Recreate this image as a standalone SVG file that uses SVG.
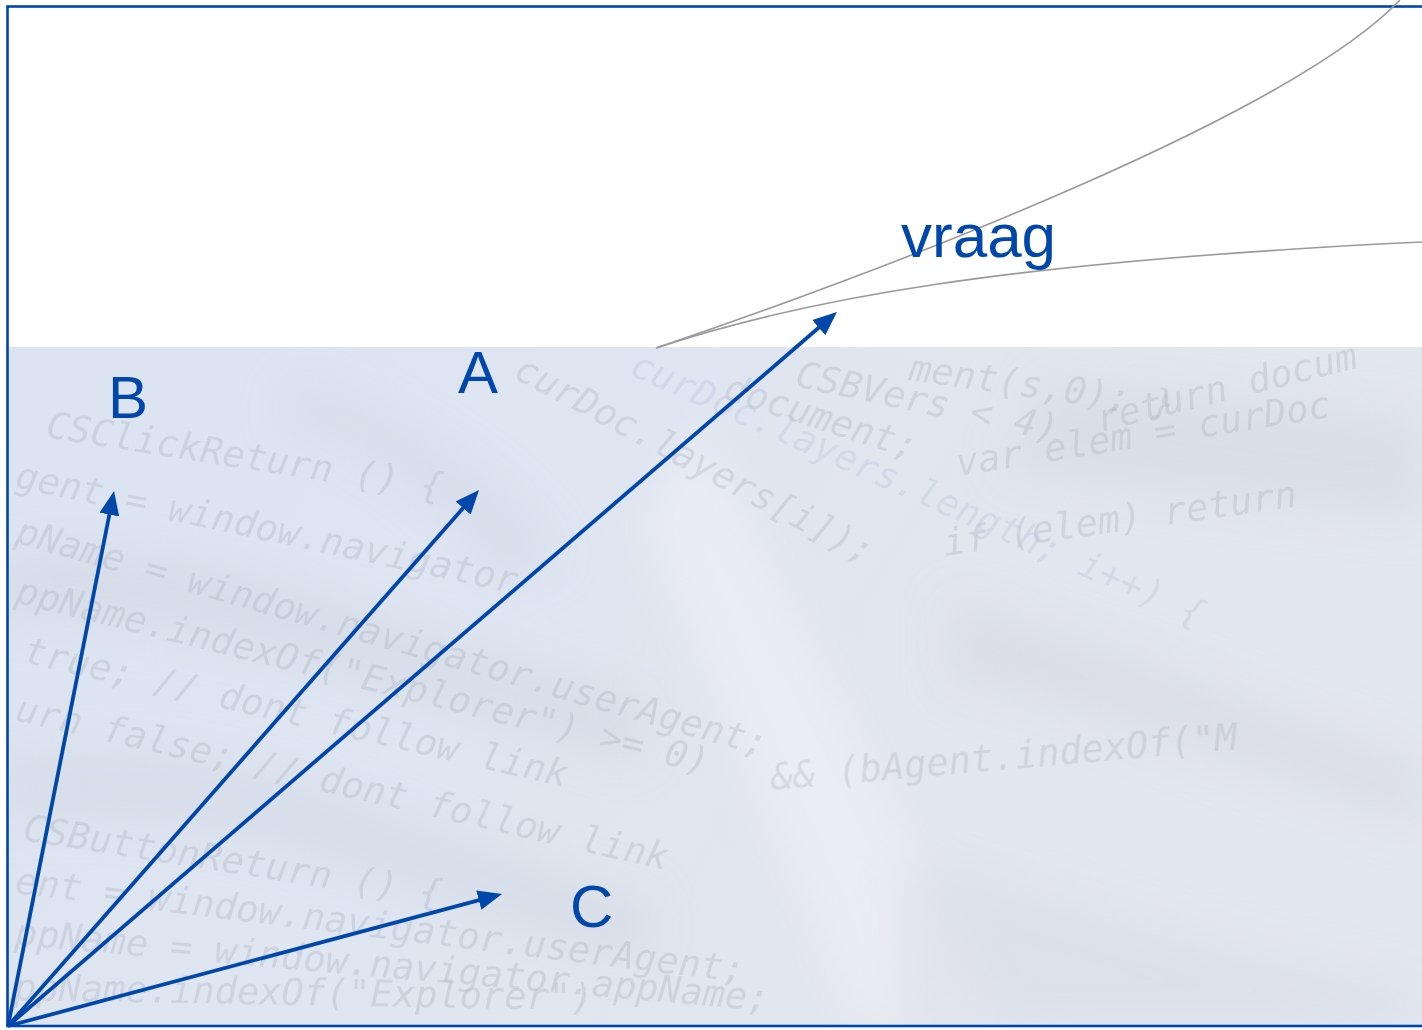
<svg xmlns="http://www.w3.org/2000/svg" width="1422" height="1030" viewBox="0 0 1422 1030">
<defs>
<style>
.lbl{font-family:"Liberation Sans",Arial,sans-serif;font-size:60px;fill:#0047ab}
.code{font-family:"DejaVu Sans Mono","Liberation Mono",monospace;font-size:37px;fill:#a9b0bc;fill-opacity:0.34;font-style:italic}
.code2{font-family:"DejaVu Sans Mono","Liberation Mono",monospace;font-size:37px;fill:#b4c0d8;fill-opacity:0.32;font-style:italic}
.arr{stroke:#0047ab;stroke-width:3.8;fill:none}
.curve{stroke:#9a9a9a;stroke-width:1.6;fill:none}
</style>
<marker id="head" viewBox="0 0 24 20" refX="12" refY="10" markerWidth="24" markerHeight="20" markerUnits="userSpaceOnUse" orient="auto">
<path d="M0,0 L24,10 L0,20 z" fill="#0047ab"/>
</marker>
<linearGradient id="bg" x1="0" y1="0" x2="1" y2="0.3">
<stop offset="0" stop-color="#dce4f1"/>
<stop offset="0.45" stop-color="#dfe5f1"/>
<stop offset="0.7" stop-color="#e2e6ee"/>
<stop offset="1" stop-color="#e3e7ef"/>
</linearGradient>
<filter id="blur" x="-20%" y="-20%" width="140%" height="140%"><feGaussianBlur stdDeviation="22"/></filter>
<clipPath id="clipBg"><rect x="8" y="347" width="1414" height="679"/></clipPath>
</defs>

<g id="background">
<rect x="8" y="347" width="1414" height="679" fill="url(#bg)"/>
<g clip-path="url(#clipBg)">
<g filter="url(#blur)">
<path d="M0,560 C200,520 400,640 640,700 L640,760 C400,700 200,600 0,620 z" fill="#cfd6e2" opacity="0.5"/>
<path d="M0,760 C250,720 450,860 650,900 L650,960 C450,920 250,790 0,820 z" fill="#ced5e1" opacity="0.45"/>
<path d="M700,420 L1000,1026 L860,1026 L640,520 z" fill="#f0f2f6" opacity="0.6"/>
<path d="M1050,380 L1422,420 L1422,520 L1000,470 z" fill="#d2d7e0" opacity="0.5"/>
<path d="M950,600 C1100,640 1250,700 1422,760 L1422,830 C1250,770 1100,710 950,680 z" fill="#d3d8e1" opacity="0.5"/>
<path d="M900,860 C1050,900 1250,960 1422,990 L1422,1026 L900,1026 z" fill="#d5dae3" opacity="0.45"/>
<path d="M300,380 C400,420 500,470 560,560 L500,580 C440,490 360,440 280,420 z" fill="#cdd4e0" opacity="0.4"/>
</g>
</g>
<g id="code-texture">
<text class="code" transform="translate(45,437) rotate(9)">CSClickReturn () {</text>
<text class="code" transform="translate(14,487) rotate(12)">gent = window.navigator</text>
<text class="code" transform="translate(14,542) rotate(16)">pName = window.navigator.userAgent;</text>
<text class="code" transform="translate(14,602) rotate(14)">ppName.indexOf("Explorer") &gt;= 0)</text>
<text class="code" transform="translate(22,662) rotate(13)">true; // dont follow link</text>
<text class="code" transform="translate(14,720) rotate(13)">urn false; // dont follow link</text>
<text class="code" transform="translate(772,790) rotate(-5)">&amp;&amp; (bAgent.indexOf("M</text>
<text class="code" transform="translate(22,840) rotate(9)">CSButtonReturn () {</text>
<text class="code" transform="translate(14,893) rotate(7)">ent = window.navigator.userAgent;</text>
<text class="code" transform="translate(14,945) rotate(5)">ppName = window.navigator.appName;</text>
<text class="code" transform="translate(14,1000) rotate(1)">ppName.indexOf("Explorer")</text>
<text class="code" transform="translate(512,377) rotate(28)">curDoc.layers[i]);</text>
<text class="code" transform="translate(945,556) rotate(-8)">if (elem) return</text>
<text class="code" transform="translate(722,398) rotate(18)">document;</text>
<text class="code" transform="translate(958,476) rotate(-9)">var elem = curDoc</text>
<text class="code" transform="translate(794,386) rotate(12)">CSBVers &lt; 4)</text>
<text class="code" transform="translate(1100,432) rotate(-14)">return docum</text>
<text class="code" transform="translate(908,380) rotate(8)">ment(s,0); }</text>
<text class="code2" transform="translate(628,374) rotate(24)">curDoc.layers.length; i++) {</text>
</g>
</g>

<g id="frame">
<rect x="7.5" y="6.5" width="1420" height="1019.5" fill="none" stroke="#0047ab" stroke-width="2.6"/>
</g>

<g id="curves">
<path class="curve" d="M656,348 C900,265 1290,115 1400,0"/>
<path class="curve" d="M656,348 C800,300 1000,262 1422,242"/>
</g>

<g id="connectors">
<line class="arr" x1="8" y1="1026" x2="111.7" y2="502.8" marker-end="url(#head)"/>
<line class="arr" x1="8" y1="1026" x2="471.1" y2="499" marker-end="url(#head)"/>
<line class="arr" x1="8" y1="1026" x2="827.9" y2="319.8" marker-end="url(#head)"/>
<line class="arr" x1="8" y1="1026" x2="490.4" y2="897.1" marker-end="url(#head)"/>
</g>

<g id="node-B"><text class="lbl" x="108" y="418">B</text></g>
<g id="node-A"><text class="lbl" x="458" y="393">A</text></g>
<g id="node-C"><text class="lbl" x="570" y="927">C</text></g>
<g id="node-vraag"><text class="lbl" x="901" y="257" style="font-size:62px">vraag</text></g>
</svg>
